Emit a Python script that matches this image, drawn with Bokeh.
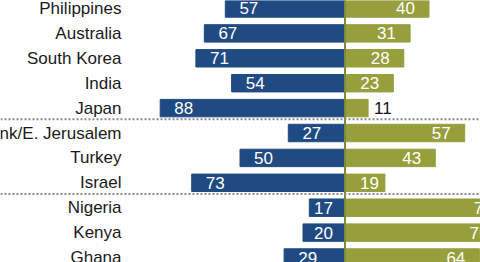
from bokeh.plotting import figure
from bokeh.models import Range1d, Span, ColumnDataSource
from bokeh.embed import file_html
from bokeh.resources import INLINE
from bokeh.core.properties import value

countries = ["Philippines", "Australia", "South Korea", "India", "Japan",
             "West Bank/E. Jerusalem", "Turkey", "Israel",
             "Nigeria", "Kenya", "Ghana"]
left_vals = [57, 67, 71, 54, 88, 27, 50, 73, 17, 20, 29]
right_vals = [40, 31, 28, 23, 11, 57, 43, 19, 77, 75, 64]
group_sizes = [5, 3, 3]

BLUE = "#1f4b82"
OLIVE = "#979f3d"
PX = 2.1  # pixels per unit
FONT = "Liberation Sans"

p = figure(width=480, height=262, output_backend="svg", toolbar_location=None,
           x_range=Range1d(-344.5 / PX, 135.5 / PX),
           y_range=Range1d(10.2, -0.321), min_border=0)
p.axis.visible = False
p.grid.visible = False
p.outline_line_color = None
p.background_fill_color = "white"
p.border_fill_color = "white"

ys = list(range(len(countries)))
src = ColumnDataSource(dict(y=ys, l=[-v for v in left_vals], r=right_vals, c=countries))
p.hbar(y="y", left="l", right=0, height=0.7, color=BLUE, source=src)
p.hbar(y="y", left=0, right="r", height=0.7, color=OLIVE, source=src)

# country names
p.text(x=[(121 - 344.5) / PX] * len(ys), y=ys, text=countries, text_align="right",
       text_baseline="middle", text_font=value(FONT), text_font_size="17px",
       text_color="#1a1a1a")

# left labels (right aligned)
lx = [min(-v + 33 / PX, -12 / PX) for v in left_vals]
p.text(x=lx, y=ys, text=[str(v) for v in left_vals], text_align="right",
       text_baseline="middle", text_font=value(FONT), text_font_size="17px",
       text_color="white")

# right labels
in_y, in_x, in_t, out_y, out_x, out_t = [], [], [], [], [], []
for y, v in zip(ys, right_vals):
    if v * PX < 30:
        out_y.append(y); out_x.append(v + 6 / PX); out_t.append(str(v))
    else:
        in_y.append(y); in_x.append(max(15 / PX, v - 33 / PX)); in_t.append(str(v))
p.text(x=in_x, y=in_y, text=in_t, text_align="left", text_baseline="middle",
       text_font=value(FONT), text_font_size="17px", text_color="white")
p.text(x=out_x, y=out_y, text=out_t, text_align="left", text_baseline="middle",
       text_font=value(FONT), text_font_size="17px", text_color="#111111")

p.add_layout(Span(location=0, dimension="height", line_color="#7d8a3a", line_width=2))
acc = 0
for g in group_sizes[:-1]:
    acc += g
    p.add_layout(Span(location=acc - 0.55, dimension="width", line_color="#8a8a8a",
                      line_width=2, line_dash="2 2"))

open("out.html", "w").write(file_html(p, INLINE))
